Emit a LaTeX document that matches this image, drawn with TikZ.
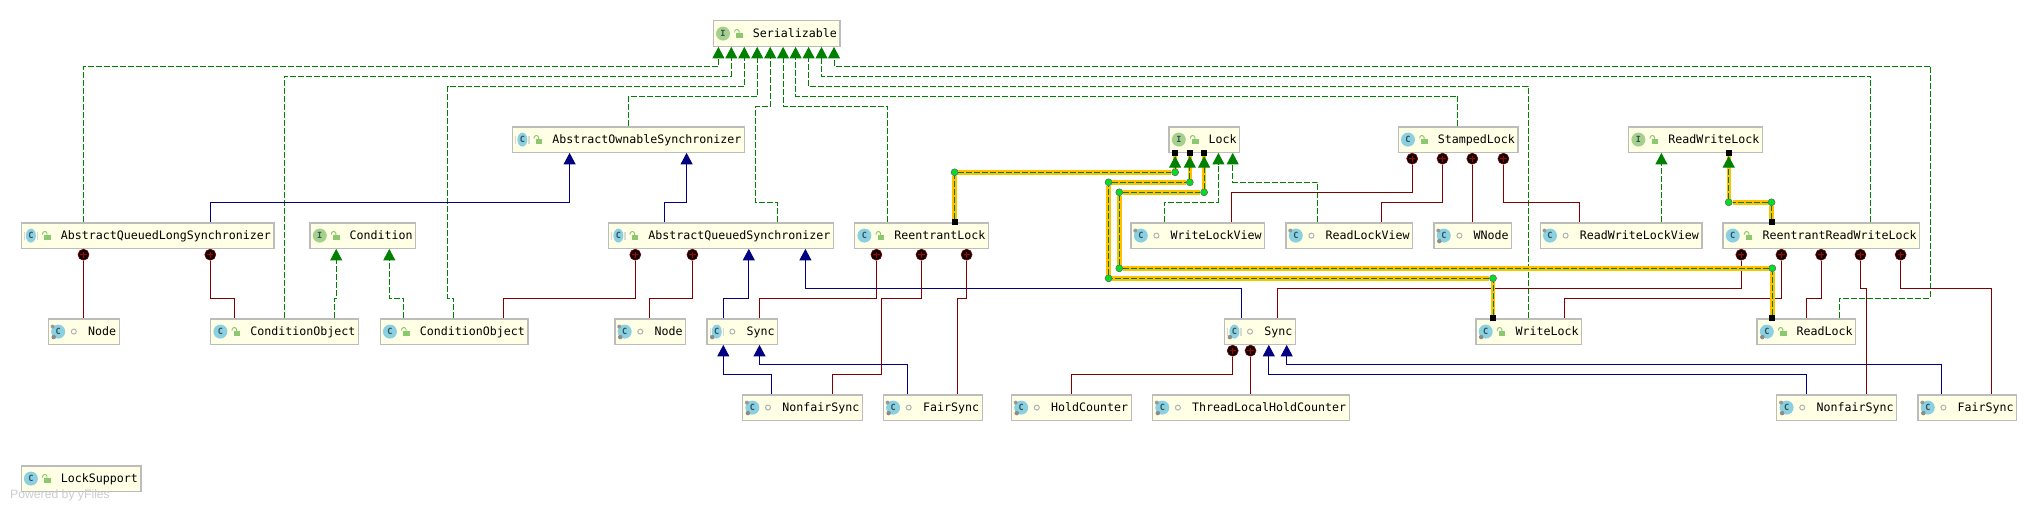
\documentclass[tikz,border=0pt]{standalone}
\usepackage{fontspec}
\setsansfont{Liberation Sans}
\setmonofont{DejaVu Sans Mono}
\usepackage{tikz}
\usetikzlibrary{arrows.meta,shapes.geometric}
\definecolor{boxfill}{HTML}{FFFFE6}
\definecolor{boxline}{HTML}{BCBCBC}
\definecolor{icoblue}{HTML}{8BD0E0}
\definecolor{icogreen}{HTML}{A6D18C}
\definecolor{icotext}{HTML}{33505C}
\definecolor{lockgreen}{HTML}{8CC870}
\definecolor{implgreen}{HTML}{008000}
\definecolor{extblue}{HTML}{000080}
\definecolor{compred}{HTML}{800000}
\definecolor{hlorange}{HTML}{FFC000}
\definecolor{hldot}{HTML}{00E020}

\begin{document}
\begin{tikzpicture}[
  x=1pt, y=-1pt,
  box/.style   = {draw=boxline, fill=boxfill, line width=1.2pt, anchor=north west,
                  minimum height=25.4pt, inner ysep=0pt, inner xsep=3.1pt,
                  text height=10pt, text depth=3pt,
                  font=\ttfamily\fontsize{11.63}{14}\selectfont},
  ico/.style   = {circle, minimum size=14pt, inner sep=0pt, text=icotext,
                  font=\ttfamily\bfseries\fontsize{8.5}{9}\selectfont},
  icoc/.style  = {ico, fill=icoblue},
  icoi/.style  = {ico, fill=icogreen},
  icoa/.style  = {ellipse, minimum width=10pt, minimum height=14pt, inner sep=0pt,
                  fill=icoblue, text=icotext,
                  font=\ttfamily\bfseries\fontsize{8.5}{9}\selectfont},
  absbar/.style = {rectangle, fill=black!15, minimum width=1.2pt, minimum height=8pt, inner sep=0pt},
  gearmark/.style = {circle, fill=black!45, minimum size=4.5pt, inner sep=0pt},
  pinmark/.style  = {circle, fill=black!40, minimum size=4pt, inner sep=0pt},
  pub/.style   = {rectangle, minimum size=10pt, inner sep=0pt, path picture={
      \fill[lockgreen] ([shift={(-2.3,-0.5)}]path picture bounding box.center) rectangle ++(6.4,4.8);
      \draw[lockgreen, line width=.9pt, rounded corners=1.5pt]
        ([shift={(-3.9,-1)}]path picture bounding box.center) -- ++(0,-3) -- ++(4.4,0) -- ++(0,3.5);}},
  pkg/.style   = {circle, draw=black!30, line width=1pt, minimum size=5pt, inner sep=0pt},
  circ/.style  = {circle, draw=compred, fill=black!95!red, line width=.6pt, minimum size=11pt,
                  inner sep=0pt, anchor=north, path picture={
      \draw[red!65!black, line width=1pt, shorten >=2.4pt, shorten <=2.4pt]
        (path picture bounding box.north) -- (path picture bounding box.south);
      \draw[red!65!black, line width=1pt, shorten >=2.4pt, shorten <=2.4pt]
        (path picture bounding box.west) -- (path picture bounding box.east);}},
  impl/.style  = {draw=implgreen, line width=.9pt, dash pattern=on 6pt off 2pt,
                  -{Triangle[length=11.5pt, width=12pt, fill=implgreen]}},
  ext/.style   = {draw=extblue, line width=1pt,
                  -{Triangle[length=11.5pt, width=12pt, fill=extblue]}},
  comp/.style  = {draw=compred, line width=1pt},
  hl/.style    = {impl, preaction={draw=hlorange, line width=4.4pt, solid, arrows=-}},
  hdot/.style  = {circle, draw=black!60, fill=hldot, line width=.6pt, minimum size=7pt, inner sep=0pt},
  hsq/.style   = {rectangle, fill=black, minimum size=6pt, inner sep=0pt},
  ypow/.style  = {font=\sffamily\fontsize{12.2}{14}\selectfont, text=black!20, inner sep=0pt, anchor=west},
]

\newcommand{\cls}[7]{% #1 = name, #2,#3 = corner, #4 = text, #5 = icon, #6 = letter, #7 = visibility
  \node[box] (#1) at (#2,#3) {\hspace*{36.6pt}#4};
  \node[#5] (#1-c) at ([xshift=10.4pt]#1.west) {#6};
  \node[#7] (#1-v) at ([xshift=26pt]#1.west) {};
}
\newcommand{\wire}[6]{% #1 = style, #2 = from, #3 = x at from, #4 = y of the run, #5 = x at to, #6 = to
  \draw[#1] (#3,0 |- #2) -- (#3,#4) -- (#5,#4) -- (#5,0 |- #6);
}

\useasboundingbox (0,0) rectangle (2037,511);

% ======================= classes ======================================
\cls{ser}{712.6}{20.3}{Serializable}{icoi}{I}{pub}

\cls{aos}{512}{126.3}{AbstractOwnableSynchronizer}{icoa}{C}{pub}
\cls{lock}{1168.4}{126.3}{Lock}{icoi}{I}{pub}
\cls{stamped}{1397.6}{126.3}{StampedLock}{icoc}{C}{pub}
\cls{rwl}{1628}{126.3}{ReadWriteLock}{icoi}{I}{pub}

\cls{aqls}{20.5}{222.3}{AbstractQueuedLongSynchronizer}{icoa}{C}{pub}
\cls{cond}{309.4}{222.3}{Condition}{icoi}{I}{pub}
\cls{aqs}{608}{222.3}{AbstractQueuedSynchronizer}{icoa}{C}{pub}
\cls{rl}{854}{222.3}{ReentrantLock}{icoc}{C}{pub}
\cls{wlv}{1130.4}{222.3}{WriteLockView}{icoc}{C}{pkg}
\cls{rlv}{1285.4}{222.3}{ReadLockView}{icoc}{C}{pkg}
\cls{wnode}{1433.4}{222.3}{WNode}{icoc}{C}{pkg}
\cls{rwlv}{1539.6}{222.3}{ReadWriteLockView}{icoc}{C}{pkg}
\cls{rrwl}{1722.3}{222.3}{ReentrantReadWriteLock}{icoc}{C}{pub}

\cls{nodea}{47.8}{318.3}{Node}{icoc}{C}{pkg}
\cls{coa}{210}{318.3}{ConditionObject}{icoc}{C}{pub}
\cls{cob}{379.5}{318.3}{ConditionObject}{icoc}{C}{pub}
\cls{nodeb}{614.3}{318.3}{Node}{icoc}{C}{pkg}
\cls{synca}{706.3}{318.3}{Sync}{icoa}{C}{pkg}
\cls{syncb}{1224}{318.3}{Sync}{icoa}{C}{pkg}
\cls{wl}{1475.3}{318.3}{WriteLock}{icoc}{C}{pub}
\cls{rdl}{1756.4}{318.3}{ReadLock}{icoc}{C}{pub}

\cls{nfa}{742}{394.3}{NonfairSync}{icoc}{C}{pkg}
\cls{fsa}{882.7}{394.3}{FairSync}{icoc}{C}{pkg}
\cls{hc}{1010.8}{394.3}{HoldCounter}{icoc}{C}{pkg}
\cls{tlhc}{1151.9}{394.3}{ThreadLocalHoldCounter}{icoc}{C}{pkg}
\cls{nfb}{1776.2}{394.3}{NonfairSync}{icoc}{C}{pkg}
\cls{fsb}{1917.4}{394.3}{FairSync}{icoc}{C}{pkg}

\cls{ls}{20.5}{465.3}{LockSupport}{icoc}{C}{pub}

\node[ypow] (powered) at (10,495) {Powered by yFiles};

% marks on the class icons
\foreach \n in {aos,aqls,aqs,synca,syncb} {
  \node[absbar] (\n-l) at ([xshift=-6.6pt]\n-c.center) {};
  \node[absbar] (\n-r) at ([xshift=6.6pt]\n-c.center) {};
}
\foreach \n in {nodea,nodeb,synca,syncb,wnode,wl,rdl,nfa,fsa,hc,tlhc,nfb,fsb}
  \node[gearmark] (\n-g) at ([shift={(-4.5,5.5)}]\n-c.center) {};
\foreach \n in {nodea,nodeb,wlv,rlv,wnode,rwlv,nfa,fsa,hc,tlhc,nfb,fsb}
  \node[pinmark] (\n-k) at ([shift={(-5.5,-5)}]\n-c.center) {};

% composition circles under the outer classes
\foreach \n/\p/\x in {qa/aqls/83.5, qb/aqls/210.3, sa/aqs/635.3, sb/aqs/692.4,
                      ra/rl/876.4, rb/rl/921.5, rc/rl/966.6,
                      ya/syncb/1232.7, yb/syncb/1250.5,
                      ta/stamped/1412.2, tb/stamped/1442.5, tc/stamped/1472.3, td/stamped/1503.4,
                      wa/rrwl/1741.3, wb/rrwl/1781.4, wc/rrwl/1821.1, wd/rrwl/1860.4, we/rrwl/1900.6}
  \node[circ] (\n) at (\x,0 |- \p.south) {};

% ======================= implements Serializable =======================
\wire{impl}{aqls.north}{83.5}{66.3}{718.4}{ser.south}
\wire{impl}{coa.north}{284.4}{76.3}{731.3}{ser.south}
\draw[impl] (453.6,0 |- cob.north) -- (453.6,298.3) -- (447.8,298.3) -- (447.8,86.3)
  -- (744.3,86.3) -- (744.3,0 |- ser.south);
\wire{impl}{aos.north}{628.6}{96.3}{757.2}{ser.south}
\draw[impl] (777.3,0 |- aqs.north) -- (777.3,202.3) -- (755.4,202.3) -- (755.4,106.3)
  -- (770.2,106.3) -- (770.2,0 |- ser.south);
\wire{impl}{rl.north}{887.6}{106.3}{783.1}{ser.south}
\wire{impl}{stamped.north}{1457.6}{96.3}{795.6}{ser.south}
\wire{impl}{wl.north}{1528.4}{86.3}{808.6}{ser.south}
\wire{impl}{rrwl.north}{1870.8}{76.3}{821.5}{ser.south}
\draw[impl] (1839.3,0 |- rdl.north) -- (1839.3,298.3) -- (1930.4,298.3) -- (1930.4,66.3)
  -- (834,66.3) -- (834,0 |- ser.south);

% ======================= other interfaces ==============================
\wire{impl}{coa.north}{334.4}{298.3}{336.2}{cond.south}
\wire{impl}{cob.north}{403.6}{298.3}{389.3}{cond.south}
\wire{impl}{wlv.north}{1164.4}{202.3}{1218.4}{lock.south}
\wire{impl}{rlv.north}{1317.5}{182.3}{1232.7}{lock.south}
\draw[impl] (1661.4,0 |- rwlv.north) -- (1661.4,0 |- rwl.south);

% ======================= extends =======================================
\wire{ext}{aqls.north}{210.3}{202.3}{569.6}{aos.south}
\wire{ext}{aqs.north}{664.3}{202.3}{686.6}{aos.south}
\wire{ext}{synca.north}{723.3}{298.3}{748.8}{aqs.south}
\wire{ext}{syncb.north}{1241.6}{288.3}{805.4}{aqs.south}
\wire{ext}{nfa.north}{771.5}{374.3}{723.3}{synca.south}
\wire{ext}{fsa.north}{907.2}{364.3}{759.5}{synca.south}
\wire{ext}{nfb.north}{1806.5}{374.3}{1268.8}{syncb.south}
\wire{ext}{fsb.north}{1941.6}{364.3}{1286.7}{syncb.south}

% ======================= nested classes ================================
\draw[comp] (qa) -- (qa |- nodea.north);
\wire{comp}{qb.south}{210.3}{298.3}{234.4}{coa.north}
\wire{comp}{sa.south}{635.3}{298.3}{503.6}{cob.north}
\wire{comp}{sb.south}{692.4}{298.3}{649.6}{nodeb.north}
\wire{comp}{ra.south}{876.4}{298.3}{759.5}{synca.north}
\draw[comp] (rb) -- (921.5,298.3) -- (881.3,298.3) -- (881.3,374.3) -- (832.2,374.3)
  -- (832.2,0 |- nfa.north);
\wire{comp}{rc.south}{966.6}{298.3}{957.2}{fsa.north}
\wire{comp}{ya.south}{1232.7}{374.3}{1071.5}{hc.north}
\draw[comp] (yb) -- (yb |- tlhc.north);
\wire{comp}{ta.south}{1412.2}{192.3}{1231.3}{wlv.north}
\wire{comp}{tb.south}{1442.5}{202.3}{1381.6}{rlv.north}
\draw[comp] (tc) -- (tc |- wnode.north);
\wire{comp}{td.south}{1503.4}{202.3}{1579.3}{rwlv.north}
\wire{comp}{wa.south}{1741.3}{288.3}{1277.3}{syncb.north}
\wire{comp}{wb.south}{1781.4}{298.3}{1564.2}{wl.north}
\wire{comp}{wc.south}{1821.1}{298.3}{1806.5}{rdl.north}
\wire{comp}{wd.south}{1860.4}{288.3}{1866.5}{nfb.north}
\wire{comp}{we.south}{1900.6}{288.3}{1991.3}{fsb.north}

% ======================= highlighted paths =============================
\foreach \n/\p/\x in {sqa/rl/954.6, sqb/wl/1493, sqc/rdl/1772.3, sqd/rrwl/1771.5}
  \node[hsq] (\n) at (\x,0 |- \p.north) {};
\foreach \n/\p/\x in {lka/lock/1175.1, lkb/lock/1189.8, lkc/lock/1204.1, rwa/rwl/1728.7}
  \node[hsq] (\n) at (\x,0 |- \p.south) {};
\foreach \n/\x/\y in {da/954.6/172.3, db/1175.1/172.3,
                      dc/1189.8/182.3, dd/1108.6/182.3, de/1108.6/278.3, df/1493/278.3,
                      dg/1204.1/192.3, dh/1119.3/192.3, di/1119.3/268.3, dj/1772.3/268.3,
                      dk/1728.7/202.3, dl/1771.5/202.3}
  \node[hdot] (\n) at (\x,\y) {};

\draw[hl] (sqa.north) -- (da) -- (db) -- (lka.south);
\draw[hl] (sqb.north) -- (df) -- (de) -- (dd) -- (dc) -- (lkb.south);
\draw[hl] (sqc.north) -- (dj) -- (di) -- (dh) -- (dg) -- (lkc.south);
\draw[hl] (sqd.north) -- (dl) -- (dk) -- (rwa.south);

\end{tikzpicture}
\end{document}
